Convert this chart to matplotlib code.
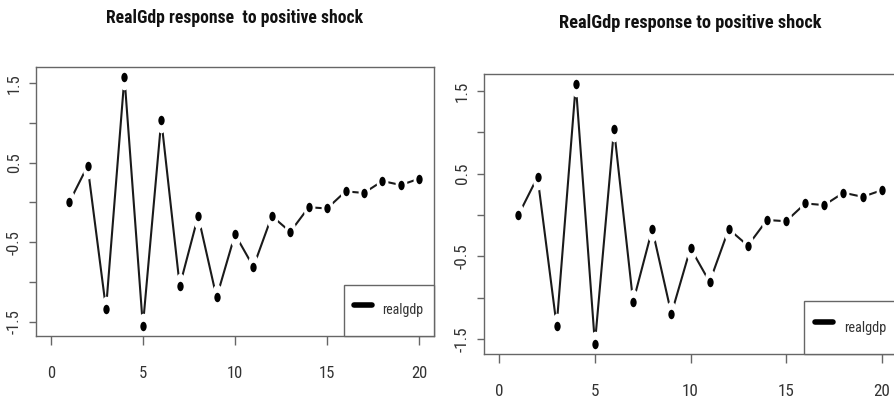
import matplotlib
matplotlib.use('Agg')
import matplotlib.pyplot as plt
from matplotlib import font_manager
from matplotlib.markers import MarkerStyle
from matplotlib.transforms import Affine2D
from matplotlib.lines import Line2D

# ---- data ----
periods = list(range(1, 21))
realgdp = [0.00, 0.46, -1.34, 1.58, -1.555, 1.04, -1.05, -0.17, -1.195, -0.40,
           -0.81, -0.17, -0.37, -0.06, -0.075, 0.14, 0.12, 0.27, 0.22, 0.30]
x_ticks = [0, 5, 10, 15, 20]
x_tick_labels = ['0', '5', '10', '15', '20']
y_ticks = [-1.5, -1.0, -0.5, 0.0, 0.5, 1.0, 1.5]
y_tick_labels = ['-1.5', '', '-0.5', '', '0.5', '', '1.5']
titles = ['RealGdp response  to positive shock', 'RealGdp response to positive shock']
legend_label = 'realgdp'

# ---- fonts: prefer a condensed sans if one is installed ----
entries = font_manager.fontManager.ttflist
names = {f.name for f in entries}
condensed_fams = {f.name for f in entries
                  if str(f.stretch) in ('condensed', 'semi-condensed', '75', '87')
                  or 'Narrow' in f.name or 'Condensed' in f.name}
FAMILY = 'Liberation Sans'
STRETCH = 'normal'
IS_NARROW = False
for cand in ['Liberation Sans Narrow', 'DejaVu Sans Condensed', 'Roboto Condensed',
             'Open Sans Condensed']:
    if cand in names:
        FAMILY, IS_NARROW = cand, True
        break
if not IS_NARROW:
    for cand in ['DejaVu Sans', 'Open Sans', 'Roboto', 'Noto Sans']:
        if cand in condensed_fams:
            FAMILY, STRETCH, IS_NARROW = cand, 'condensed', True
            break
plt.rcParams['font.family'] = [FAMILY, 'DejaVu Sans']
plt.rcParams['font.stretch'] = STRETCH

W, H = 895, 407
fig = plt.figure(figsize=(W / 100, H / 100), dpi=100)
fig.patch.set_facecolor('white')

# panel boxes in pixels: left, top, right, bottom
panels = [
    dict(box=(36, 67, 434, 336), title_size=12.7, tick_size=12.0, leg_size=10.0),
    dict(box=(484, 74, 897, 354), title_size=13.2, tick_size=12.3, leg_size=10.3),
]
scale = 1.0 if IS_NARROW else 0.86

ymin, ymax = min(realgdp), max(realgdp)
ypad = 0.04 * (ymax - ymin)
SPINE = '#666666'

for i, p in enumerate(panels):
    l, t, r, b = p['box']
    ax = fig.add_axes([l / W, 1 - b / H, (r - l) / W, (b - t) / H])
    ax.set_xlim(-0.8, 20.8)
    ax.set_ylim(ymin - ypad, ymax + ypad)

    # R type="b": line broken around each point
    ax.plot(periods, realgdp, color='#1a1a1a', lw=1.5, zorder=1,
            solid_capstyle='butt')
    halo = MarkerStyle('o', transform=Affine2D().scale(0.46, 1.0))
    ax.plot(periods, realgdp, ls='none', marker=halo, ms=18.5, mfc='white',
            mec='none', zorder=1.5)
    dot = MarkerStyle('o', transform=Affine2D().scale(0.67, 1.0))
    ax.plot(periods, realgdp, ls='none', marker=dot, ms=6.8, mfc='black',
            mec='none', zorder=3)

    for s in ax.spines.values():
        s.set_color(SPINE)
        s.set_linewidth(1.0)

    ax.set_xticks(x_ticks)
    ax.set_xticklabels(x_tick_labels)
    ax.set_yticks(y_ticks)
    ax.set_yticklabels(y_tick_labels)
    ax.tick_params(axis='x', length=6.5, width=1, color=SPINE, pad=15,
                   labelsize=p['tick_size'] * scale, labelcolor='#333333')
    ax.tick_params(axis='y', length=5, width=1, color=SPINE, pad=5,
                   labelsize=p['tick_size'] * scale, labelcolor='#333333',
                   labelrotation=90)
    for lab in ax.get_yticklabels():
        lab.set_va('center')

    ax.text(0.5, 1.182, titles[i], transform=ax.transAxes, ha='center',
            va='center', fontsize=p['title_size'] * scale, fontweight='bold',
            color='#111111')

    fs = p['leg_size'] * scale
    handle = Line2D([], [], color='black', lw=4, solid_capstyle='round')
    leg = ax.legend([handle], [legend_label], loc='lower right',
                    bbox_to_anchor=(1, 0), borderaxespad=0, fancybox=False,
                    edgecolor=SPINE, framealpha=1, handlelength=1.3,
                    handleheight=3.0, handletextpad=0.75, borderpad=0.75,
                    prop={'family': [FAMILY, 'DejaVu Sans'], 'size': fs,
                          'stretch': STRETCH})
    leg.get_frame().set_linewidth(1.0)
    for txt in leg.get_texts():
        txt.set_color('#333333')

fig.savefig('out.png', dpi=100, facecolor='white')
